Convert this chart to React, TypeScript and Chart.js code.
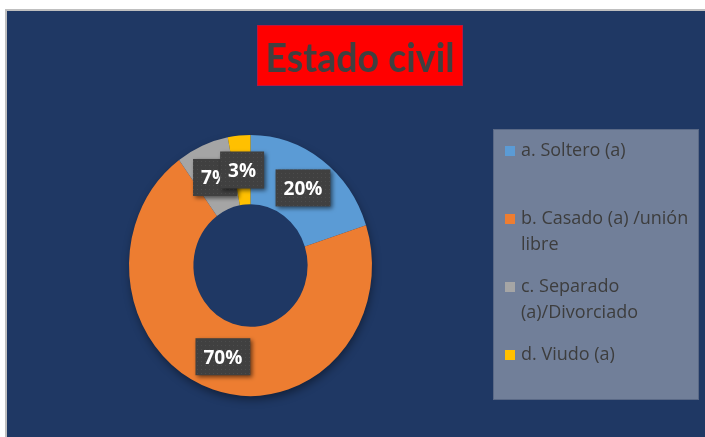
import React, { useEffect, useRef } from "react";
import { Chart, registerables } from "chart.js";

Chart.register(...registerables);

const chartTitle = "Estado civil";
const categories = [
  "a. Soltero (a)",
  "b. Casado (a) /unión libre",
  "c. Separado (a)/Divorciado",
  "d. Viudo (a)",
];
const percentages = [20, 70, 7, 3];
const sliceColors = ["#5b9bd5", "#ed7d31", "#a5a5a5", "#ffc000"];

const NAVY = "#1f3864";
const X_SQUEEZE = 0.931;

function wrapText(ctx: CanvasRenderingContext2D, text: string, maxWidth: number): string[] {
  const words = text.split(" ");
  const lines: string[] = [];
  let cur = "";
  for (const w of words) {
    const test = cur ? cur + " " + w : w;
    if (cur && ctx.measureText(test).width > maxWidth) {
      lines.push(cur);
      cur = w;
    } else {
      cur = test;
    }
  }
  if (cur) lines.push(cur);
  return lines;
}

function makePattern(ctx: CanvasRenderingContext2D) {
  const c = document.createElement("canvas");
  c.width = 4;
  c.height = 4;
  const p = c.getContext("2d")!;
  p.fillStyle = "#404040";
  p.fillRect(0, 0, 4, 4);
  p.fillStyle = "#4c4c4c";
  p.fillRect(1, 1, 1, 1);
  return ctx.createPattern(c, "repeat") || "#404040";
}

function centerOf(chart: any) {
  const a = chart.chartArea;
  return { cx: (a.left + a.right) / 2, cy: (a.top + a.bottom) / 2 };
}

const decorPlugin = {
  id: "decor",
  beforeDraw(chart: any) {
    const { ctx, width, height } = chart;
    ctx.save();
    ctx.fillStyle = "#ffffff";
    ctx.fillRect(0, 0, width, height);
    ctx.fillStyle = "#bfbfbf";
    ctx.fillRect(5, 9, width - 5, height - 9);
    ctx.fillStyle = NAVY;
    ctx.fillRect(7, 11, width - 7, height - 11);

    // title box
    const cx = 360;
    ctx.fillStyle = "#ff0000";
    ctx.fillRect(257, 25, 206, 61);
    ctx.strokeStyle = "#c0143c";
    ctx.lineWidth = 1;
    ctx.strokeRect(257.5, 25.5, 205, 60);
    ctx.font = "bold 40px Lato, 'Open Sans', sans-serif";
    const tw = ctx.measureText(chartTitle).width;
    const sx = 189 / tw;
    ctx.save();
    ctx.translate(cx, 72);
    ctx.scale(sx, 1);
    ctx.fillStyle = "#404040";
    ctx.textAlign = "center";
    ctx.textBaseline = "alphabetic";
    ctx.fillText(chartTitle, 0, 0);
    ctx.restore();

    // legend box
    ctx.fillStyle = "#717f99";
    ctx.fillRect(493, 129, 206, 271);
    ctx.strokeStyle = "#5a6986";
    ctx.strokeRect(493.5, 129.5, 205, 270);

    ctx.font = "18px 'Open Sans', sans-serif";
    ctx.textAlign = "left";
    ctx.textBaseline = "middle";
    const labels = chart.data.labels as string[];
    const colors = chart.data.datasets[0].backgroundColor as string[];
    labels.forEach((lab, i) => {
      const y0 = 151 + i * 68;
      ctx.fillStyle = colors[i];
      ctx.fillRect(505, y0 - 5, 10, 10);
      ctx.fillStyle = "#3d3d3d";
      const lines = wrapText(ctx, lab, 176);
      lines.forEach((ln, j) => ctx.fillText(ln, 521, y0 + j * 26));
    });
    ctx.restore();
  },
  beforeDatasetsDraw(chart: any) {
    const meta = chart.getDatasetMeta(0);
    const arc = meta.data[0];
    if (!arc) return;
    const { ctx } = chart;
    const { cx, cy } = centerOf(chart);
    const { outerRadius } = arc.getProps(["outerRadius"], true);
    ctx.save();
    ctx.translate(cx, cy);
    ctx.scale(X_SQUEEZE, 1);
    ctx.translate(-cx, -cy);
    ctx.save();
    ctx.shadowColor = "rgba(0,0,0,0.45)";
    ctx.shadowBlur = 10;
    ctx.shadowOffsetX = 1;
    ctx.shadowOffsetY = 4;
    ctx.fillStyle = NAVY;
    ctx.beginPath();
    ctx.arc(cx, cy, outerRadius - 1, 0, Math.PI * 2);
    ctx.fill();
    ctx.restore();
  },
  afterDatasetsDraw(chart: any) {
    const { ctx } = chart;
    ctx.restore();
    const { cx } = centerOf(chart);
    const meta = chart.getDatasetMeta(0);
    const data = chart.data.datasets[0].data as number[];
    const total = data.reduce((a, b) => a + b, 0);
    const pattern = makePattern(ctx);
    meta.data.forEach((el: any, i: number) => {
      const pos = el.tooltipPosition(true);
      const px = cx + (pos.x - cx) * X_SQUEEZE;
      const py = pos.y;
      const text = Math.round((data[i] / total) * 100) + "%";
      ctx.save();
      ctx.font = "bold 19px 'Open Sans', sans-serif";
      const w = ctx.measureText(text).width + 16;
      const h = 37;
      const bx = px - w / 2;
      const by = py - h / 2;
      ctx.shadowColor = "rgba(0,0,0,0.55)";
      ctx.shadowBlur = 4;
      ctx.shadowOffsetX = 2;
      ctx.shadowOffsetY = 2;
      ctx.fillStyle = pattern;
      ctx.fillRect(bx, by, w, h);
      ctx.shadowColor = "transparent";
      ctx.fillStyle = "#ffffff";
      ctx.textAlign = "center";
      ctx.textBaseline = "alphabetic";
      ctx.fillText(text, px, py + 7);
      ctx.restore();
    });
  },
};

export default function App() {
  const ref = useRef<HTMLCanvasElement>(null);
  useEffect(() => {
    if (!ref.current) return;
    const chart = new Chart(ref.current, {
      type: "doughnut",
      data: {
        labels: categories,
        datasets: [
          {
            data: percentages,
            backgroundColor: sliceColors,
            borderWidth: 0,
            hoverOffset: 0,
          },
        ],
      },
      options: {
        responsive: false,
        animation: false,
        devicePixelRatio: 1,
        cutout: "47%",
        layout: { padding: { top: 135, bottom: 41, left: 120, right: 324 } },
        plugins: {
          legend: { display: false },
          title: { display: false },
          tooltip: { enabled: false },
        },
        events: [],
      },
      plugins: [decorPlugin],
    });
    return () => chart.destroy();
  }, []);
  return (
    <div style={{ position: "absolute", left: 0, top: 0, width: 705, height: 437 }}>
      <canvas ref={ref} width={705} height={437} style={{ display: "block", width: 705, height: 437 }} />
    </div>
  );
}
